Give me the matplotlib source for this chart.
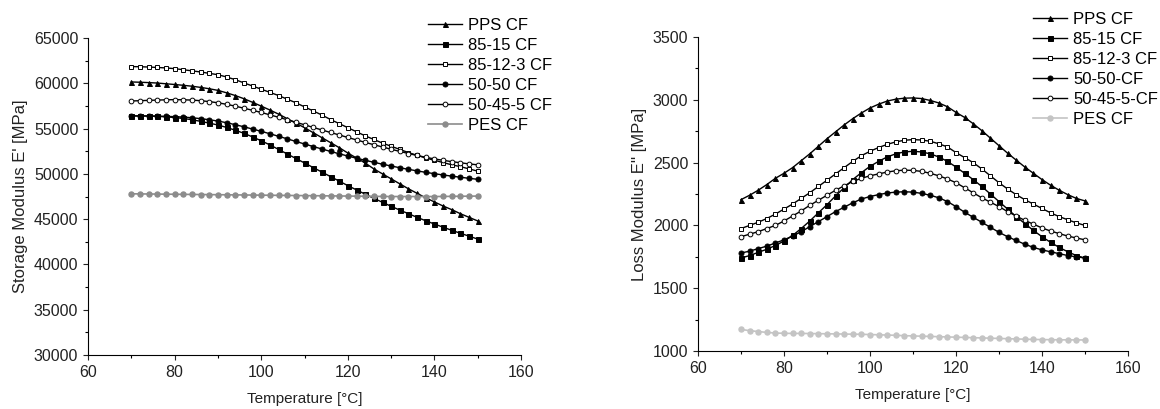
"""
Storage and loss modulus of CF composites vs temperature (DMA).
"""

import numpy as np
import matplotlib
matplotlib.use("Agg")
import matplotlib.pyplot as plt
from matplotlib.ticker import MultipleLocator

plt.rcParams['font.family'] = ['Liberation Sans', 'DejaVu Sans']
plt.rcParams['font.size'] = 11

# temperature points, every 2 degC from 70 to 150
temp = list(range(70, 152, 2))

# storage modulus E' [MPa]
E1_pps = [60150, 60120, 60080, 60030, 59950, 59870, 59780, 59680, 59550, 59400,
          59220, 58950, 58650, 58300, 57900, 57480, 57050, 56600, 56100, 55600,
          55100, 54550, 54000, 53450, 52900, 52300, 51750, 51200, 50550, 50000,
          49450, 48900, 48350, 47850, 47350, 46900, 46450, 46050, 45600, 45200, 44800]
E1_85_15 = [56400, 56400, 56380, 56350, 56300, 56220, 56120, 55980, 55800, 55600,
            55400, 55130, 54820, 54480, 54080, 53650, 53200, 52700, 52200, 51700,
            51200, 50700, 50200, 49700, 49200, 48700, 48230, 47760, 47300, 46860,
            46420, 46000, 45600, 45200, 44820, 44460, 44110, 43770, 43440, 43120, 42800]
E1_85_12_3 = [61850, 61830, 61800, 61750, 61700, 61620, 61500, 61380, 61250, 61100,
              60950, 60700, 60400, 60050, 59700, 59350, 59000, 58650, 58250, 57850,
              57400, 56950, 56500, 56000, 55550, 55100, 54650, 54200, 53800, 53400,
              53050, 52700, 52350, 52050, 51750, 51500, 51250, 51000, 50800, 50550, 50300]
E1_50_50 = [56400, 56400, 56400, 56380, 56350, 56320, 56270, 56200, 56100, 55980,
            55830, 55650, 55430, 55200, 54950, 54700, 54430, 54150, 53870, 53580,
            53300, 53020, 52750, 52480, 52220, 51970, 51730, 51500, 51280, 51070,
            50870, 50680, 50500, 50330, 50170, 50020, 49880, 49750, 49630, 49510, 49400]
E1_50_45_5 = [58050, 58080, 58120, 58150, 58180, 58200, 58180, 58150, 58080, 57980,
              57850, 57680, 57480, 57250, 57020, 56780, 56520, 56250, 55980, 55700,
              55420, 55130, 54850, 54570, 54300, 54020, 53750, 53480, 53220, 52970,
              52720, 52480, 52250, 52030, 51830, 51650, 51500, 51350, 51230, 51100, 51000]
E1_pes = [47800, 47790, 47780, 47770, 47760, 47750, 47740, 47730, 47720, 47710,
          47700, 47690, 47680, 47670, 47660, 47650, 47640, 47630, 47620, 47610,
          47600, 47590, 47580, 47570, 47560, 47550, 47540, 47530, 47520, 47510,
          47500, 47500, 47500, 47500, 47500, 47500, 47510, 47520, 47530, 47540, 47550]

# loss modulus E'' [MPa]
E2_pps = [2205, 2240, 2280, 2325, 2375, 2415, 2460, 2515, 2570, 2630,
          2690, 2745, 2800, 2850, 2895, 2935, 2965, 2990, 3005, 3013,
          3015, 3010, 2995, 2975, 2945, 2900, 2860, 2810, 2755, 2695,
          2635, 2575, 2520, 2465, 2415, 2365, 2320, 2280, 2245, 2215, 2195]
E2_85_15 = [1740, 1760, 1785, 1810, 1840, 1875, 1920, 1975, 2035, 2100,
            2165, 2235, 2300, 2365, 2420, 2470, 2510, 2545, 2570, 2585,
            2590, 2585, 2570, 2545, 2510, 2465, 2415, 2365, 2310, 2250,
            2190, 2130, 2070, 2015, 1960, 1910, 1865, 1825, 1790, 1760, 1740]
E2_85_12_3 = [1975, 2000, 2025, 2055, 2090, 2130, 2170, 2215, 2260, 2310,
              2360, 2410, 2460, 2510, 2555, 2590, 2620, 2645, 2665, 2678,
              2683, 2680, 2670, 2650, 2625, 2580, 2540, 2500, 2450, 2395,
              2340, 2290, 2245, 2205, 2170, 2135, 2100, 2070, 2045, 2020, 2000]
E2_50_50 = [1780, 1795, 1815, 1835, 1860, 1885, 1915, 1950, 1990, 2030,
            2070, 2110, 2145, 2180, 2210, 2230, 2245, 2258, 2265, 2268,
            2265, 2255, 2240, 2220, 2190, 2150, 2105, 2065, 2025, 1985,
            1945, 1910, 1880, 1850, 1825, 1805, 1790, 1775, 1760, 1750, 1740]
E2_50_45_5 = [1910, 1930, 1950, 1975, 2000, 2035, 2075, 2115, 2160, 2200,
              2240, 2280, 2315, 2350, 2375, 2395, 2410, 2425, 2435, 2440,
              2438, 2430, 2415, 2395, 2370, 2340, 2300, 2260, 2220, 2185,
              2150, 2110, 2075, 2040, 2010, 1980, 1955, 1935, 1915, 1900, 1885]
E2_pes = [1172, 1162, 1155, 1148, 1143, 1141, 1140, 1140, 1139, 1138,
          1137, 1136, 1135, 1134, 1133, 1131, 1129, 1127, 1125, 1122,
          1120, 1118, 1116, 1114, 1112, 1110, 1108, 1106, 1104, 1102,
          1100, 1098, 1096, 1094, 1092, 1091, 1090, 1089, 1089, 1088, 1088]

labels_left = ['PPS CF', '85-15 CF', '85-12-3 CF', '50-50 CF', '50-45-5 CF', 'PES CF']
labels_right = ['PPS CF', '85-15 CF', '85-12-3 CF', '50-50-CF', '50-45-5-CF', 'PES CF']

# marker styles per series: (marker, filled)
styles = [('^', True), ('s', True), ('s', False), ('o', True), ('o', False)]


def plot_panel(ax, series, labels, pes_color):
    for vals, lab, (mk, filled) in zip(series[:-1], labels[:-1], styles):
        ax.plot(temp, vals, color='black', linewidth=1.0, marker=mk,
                markersize=3.6 if filled else 3.4,
                markerfacecolor='black' if filled else 'white',
                markeredgecolor='black', markeredgewidth=0.7, label=lab)
    ax.plot(temp, series[-1], color=pes_color, linewidth=1.2, marker='o',
            markersize=3.6, markerfacecolor=pes_color, markeredgecolor=pes_color,
            label=labels[-1])

    ax.set_xlim(60, 160)
    ax.xaxis.set_major_locator(MultipleLocator(20))
    ax.xaxis.set_minor_locator(MultipleLocator(10))
    ax.spines['top'].set_visible(False)
    ax.spines['right'].set_visible(False)
    for sp in ('left', 'bottom'):
        ax.spines[sp].set_linewidth(0.8)
    ax.tick_params(which='major', direction='out', length=3.5, width=0.8,
                   labelsize=11.5, colors='#222222')
    ax.tick_params(which='minor', direction='out', length=2, width=0.8)
    ax.set_xlabel('Temperature [°C]', fontsize=11, labelpad=9, color='#222222')


fig = plt.figure(figsize=(11.6, 4.09), dpi=100)

ax1 = fig.add_axes([0.0759, 0.132, 0.3733, 0.775])
plot_panel(ax1, [E1_pps, E1_85_15, E1_85_12_3, E1_50_50, E1_50_45_5, E1_pes],
           labels_left, '#8c8c8c')
ax1.set_ylim(30000, 65000)
ax1.yaxis.set_major_locator(MultipleLocator(5000))
ax1.yaxis.set_minor_locator(MultipleLocator(2500))
ax1.set_ylabel("Storage Modulus E' [MPa]", fontsize=12, labelpad=4, color='#222222')

ax2 = fig.add_axes([0.6017, 0.1418, 0.3707, 0.7677])
plot_panel(ax2, [E2_pps, E2_85_15, E2_85_12_3, E2_50_50, E2_50_45_5, E2_pes],
           labels_right, '#c4c4c4')
ax2.set_ylim(1000, 3500)
ax2.yaxis.set_major_locator(MultipleLocator(500))
ax2.yaxis.set_minor_locator(MultipleLocator(250))
ax2.set_ylabel("Loss Modulus E'' [MPa]", fontsize=12, labelpad=4, color='#222222')

for ax, x0, y0 in ((ax1, 428 / 1160, 1 - 18 / 409), (ax2, 1033 / 1160, 1 - 12 / 409)):
    ax.legend(loc='upper left', bbox_to_anchor=(x0, y0),
              bbox_transform=fig.transFigure, frameon=False, fontsize=12,
              handlelength=2.05, handletextpad=0.36, labelspacing=0.3,
              borderpad=0, borderaxespad=0)

fig.savefig('out.png', dpi=100)
